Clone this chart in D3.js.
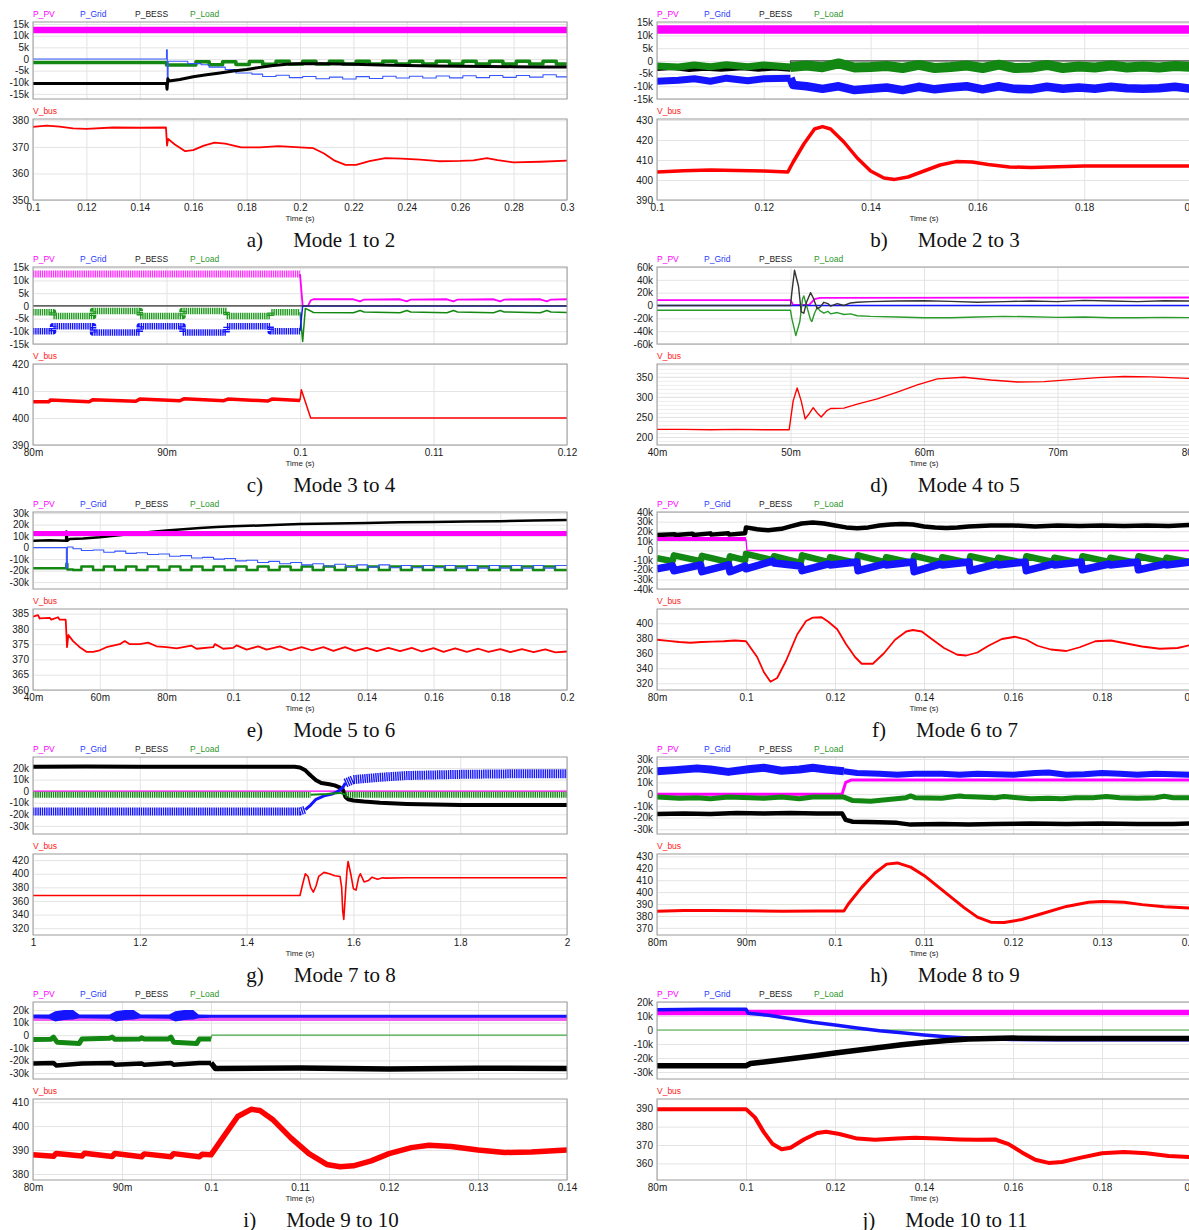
<!DOCTYPE html>
<html>
<head>
<meta charset="utf-8">
<script src="https://cdn.jsdelivr.net/npm/d3@7"></script>
<style>
body { margin: 0; background: #fff; }
</style>
</head>
<body>
<div id="chart"></div>
<script>
// ---- tick values ----
const k15Ticks = [15, 10, 5, 0, -5, -10, -15];
const aXTicks = [0.1, 0.12, 0.14, 0.16, 0.18, 0.2, 0.22, 0.24, 0.26, 0.28, 0.3];
const bXTicks = [0.1, 0.12, 0.14, 0.16, 0.18, 0.2];
const cXTicks = [0.08, 0.09, 0.1, 0.11, 0.12];
const dXTicks = [0.04, 0.05, 0.06, 0.07, 0.08];
const eXTicks = [0.04, 0.06, 0.08, 0.1, 0.12, 0.14, 0.16, 0.18, 0.2];
const fXTicks = [0.08, 0.1, 0.12, 0.14, 0.16, 0.18, 0.2];
const gXTicks = [1, 1.2, 1.4, 1.6, 1.8, 2];
const hXTicks = [0.08, 0.09, 0.1, 0.11, 0.12, 0.13, 0.14];

const legendNames = ["P_PV", "P_Grid", "P_BESS", "P_Load"];

// ---- a) Mode 1 to 2 ----  (power in kW, time in s)
const aPV = [[0.1, 12.5], [0.3, 12.5]];
const aLoad = [[0.1, -1.5], [0.15, -2.6], [0.161, -1.2], [0.166, -2.5], [0.171, -1.2], [0.176, -2.4], [0.181, -1.1], [0.186, -2.3], [0.191, -1.0], [0.196, -2.2], [0.201, -1.0], [0.206, -2.2], [0.211, -1.0], [0.216, -2.2], [0.221, -1.0], [0.226, -2.2], [0.231, -1.0], [0.236, -2.2], [0.241, -1.0], [0.246, -2.2], [0.251, -1.0], [0.256, -2.2], [0.261, -1.0], [0.266, -2.2], [0.271, -1.0], [0.276, -2.2], [0.281, -1.0], [0.286, -2.2], [0.291, -1.0], [0.296, -2.2], [0.3, -2.2]];
const aGrid = [[0.1, 0], [0.15, 4], [0.1503, -10], [0.1506, -1], [0.158, -2], [0.163, -2.5], [0.166, -3.5], [0.172, -4.5], [0.176, -6], [0.182, -6.5], [0.186, -7.5], [0.191, -7], [0.196, -8], [0.201, -7.5], [0.206, -8.5], [0.211, -7.8], [0.216, -8.6], [0.221, -7.6], [0.226, -8.4], [0.231, -7.4], [0.236, -8.2], [0.241, -7.4], [0.246, -8.2], [0.251, -7.3], [0.256, -8.1], [0.261, -7.2], [0.266, -8], [0.271, -7.1], [0.276, -7.9], [0.281, -7.1], [0.286, -7.8], [0.291, -6.8], [0.296, -7.7], [0.3, -7.7]];
const aBESS = [[0.1, -10.5], [0.15, -10.5], [0.1502, -13], [0.1505, -8.5], [0.151, -9.5], [0.155, -8.8], [0.16, -7.6], [0.165, -6.8], [0.17, -6], [0.175, -5.2], [0.18, -4.5], [0.185, -3.6], [0.19, -2.8], [0.195, -2.3], [0.2, -2], [0.21, -2], [0.22, -2.3], [0.23, -2.6], [0.24, -2.8], [0.25, -3], [0.26, -3.1], [0.27, -3.2], [0.28, -3.3], [0.29, -3.4], [0.3, -3.4]];
const aV = [[0.1, 377.5], [0.105, 378], [0.11, 377.6], [0.115, 377], [0.12, 376.8], [0.13, 377.3], [0.14, 377.2], [0.1498, 377.3], [0.1502, 370.5], [0.1506, 373], [0.153, 371], [0.157, 368.4], [0.16, 368.8], [0.164, 370.5], [0.168, 371.6], [0.172, 371.2], [0.178, 369.8], [0.185, 369.8], [0.192, 370.3], [0.2, 369.8], [0.205, 369.5], [0.209, 367.5], [0.213, 364.8], [0.217, 363.2], [0.221, 363.2], [0.226, 364.6], [0.232, 365.8], [0.238, 365.6], [0.245, 365.2], [0.252, 364.6], [0.26, 364.7], [0.265, 364.9], [0.27, 365.8], [0.274, 365], [0.28, 364.2], [0.29, 364.4], [0.3, 364.8]];

// ---- b) Mode 2 to 3 ----
const bPV = [[0.1, 12.3], [0.2, 12.3]];
const bBESS1 = [[0.1, -3.2], [0.103, -2.8], [0.106, -3.6], [0.109, -3.1], [0.112, -3.5], [0.116, -2.9], [0.119, -3.5], [0.122, -3], [0.125, -3.5]];
const bBESS2 = [[0.125, -3.5], [0.125, 0], [0.2, 0]];
const bLoad1 = [[0.1, -2], [0.104, -2.4], [0.107, -1.6], [0.11, -2.3], [0.113, -1.5], [0.117, -2.3], [0.12, -1.6], [0.125, -2.4]];
const bLoad2 = [[0.125, -2.4], [0.128, -1.8], [0.131, -2.5], [0.134, -1], [0.137, -2.6], [0.14, -2.4], [0.143, -2], [0.146, -2.8], [0.149, -1.6], [0.152, -2.8], [0.155, -2.4], [0.158, -1.8], [0.161, -2.8], [0.164, -1.5], [0.167, -2.8], [0.17, -2.6], [0.173, -1.6], [0.176, -2.8], [0.179, -2.2], [0.182, -2.6], [0.185, -1.8], [0.188, -2.6], [0.191, -2.2], [0.194, -2.6], [0.197, -2], [0.2, -2.4]];
const bGrid1 = [[0.1, -8], [0.104, -7.6], [0.107, -7], [0.11, -8], [0.113, -6.8], [0.117, -7.8], [0.12, -7], [0.125, -6.8]];
const bGrid2 = [[0.125, -6.8], [0.1255, -9.5], [0.128, -10], [0.131, -11], [0.134, -10], [0.137, -11.5], [0.14, -11], [0.143, -10.5], [0.146, -11.5], [0.149, -10.2], [0.152, -11.2], [0.155, -10.5], [0.158, -10], [0.161, -11.2], [0.164, -10], [0.167, -11], [0.17, -11.2], [0.173, -10.2], [0.176, -11], [0.179, -10.5], [0.182, -11], [0.185, -10.2], [0.188, -10.8], [0.191, -11], [0.194, -10.8], [0.197, -10.2], [0.2, -11]];
const bV = [[0.1, 404], [0.105, 404.6], [0.11, 405], [0.115, 404.8], [0.12, 404.5], [0.1245, 404], [0.1255, 409], [0.1275, 418], [0.1295, 425.5], [0.131, 426.7], [0.1325, 425.5], [0.135, 419], [0.1375, 411], [0.14, 404.5], [0.1425, 401], [0.1445, 400.3], [0.147, 401.5], [0.15, 404.5], [0.153, 407.5], [0.156, 409.2], [0.159, 409], [0.162, 407.8], [0.166, 406.5], [0.17, 406.3], [0.175, 406.6], [0.18, 407], [0.19, 407], [0.2, 407]];

// ---- c) Mode 3 to 4 ----
const cPV1 = [[0.08, 12.5], [0.1, 12.5]];
const cPV2 = [[0.1, 12.5], [0.1002, 0], [0.1006, 0], [0.1008, 2.2], [0.101, 2.6], [0.104, 2.6], [0.1045, 1.8], [0.1048, 2.5], [0.1075, 2.6], [0.108, 1.8], [0.1083, 2.5], [0.111, 2.6], [0.1115, 1.8], [0.1118, 2.5], [0.1145, 2.6], [0.115, 1.8], [0.1153, 2.5], [0.118, 2.6], [0.1185, 1.8], [0.1188, 2.5], [0.12, 2.6]];
const cLoad1 = [[0.08, -2.5], [0.0815, -4], [0.0845, -2], [0.088, -4], [0.0912, -2], [0.0945, -4], [0.0978, -2.5], [0.1, -2.5]];
const cLoad2 = [[0.1, -2.5], [0.1002, -14], [0.1004, -1], [0.1008, -2], [0.101, -2.6], [0.104, -2.7], [0.1045, -1.8], [0.1048, -2.4], [0.1075, -2.7], [0.108, -1.8], [0.1083, -2.4], [0.111, -2.7], [0.1115, -1.8], [0.1118, -2.4], [0.1145, -2.7], [0.115, -1.8], [0.1153, -2.4], [0.118, -2.7], [0.1185, -1.8], [0.1188, -2.4], [0.12, -2.6]];
const cGrid1 = [[0.08, -10], [0.0815, -8], [0.0845, -10.5], [0.088, -8], [0.0912, -10.5], [0.0945, -8], [0.0978, -10], [0.1, -10]];
const cGrid2 = [[0.1, -10], [0.1002, 0], [0.12, 0]];
const cBESS = [[0.08, 0], [0.12, 0]];
const cV1 = [[0.08, 406], [0.0812, 406], [0.0813, 406.7], [0.0842, 406], [0.0845, 406.8], [0.0877, 406.2], [0.088, 407], [0.091, 406.4], [0.0913, 407.1], [0.0943, 406.4], [0.0946, 407], [0.0976, 406.3], [0.0979, 407], [0.1, 406.5]];
const cV2 = [[0.1, 406.5], [0.1001, 410.5], [0.1008, 400], [0.12, 400]];

// ---- d) Mode 4 to 5 ----
const dPV = [[0.04, 8.5], [0.05, 8.5], [0.0502, 1], [0.0514, 1], [0.0518, 10], [0.0522, 12], [0.08, 12.5]];
const dGrid = [[0.04, 0], [0.08, 0]];
const dBESS = [[0.04, 0], [0.05, 0], [0.0501, 20], [0.0503, 55], [0.0506, 30], [0.0508, -10], [0.051, -12], [0.0512, 5], [0.0515, 20], [0.0517, 12], [0.052, -5], [0.0522, -3], [0.0525, 5], [0.0528, 3], [0.053, -1], [0.0535, 3], [0.054, 0], [0.0545, 4], [0.055, 5], [0.056, 6], [0.058, 7], [0.06, 7.5], [0.062, 6.5], [0.064, 5], [0.066, 6], [0.068, 7], [0.07, 6], [0.072, 8], [0.074, 7], [0.076, 6], [0.078, 7.5], [0.08, 7]];
const dLoad = [[0.04, -7.5], [0.05, -7.5], [0.0501, -20], [0.0504, -47], [0.0507, -25], [0.0509, 10], [0.051, 15], [0.0512, 0], [0.0515, -22], [0.0516, -25], [0.0518, -12], [0.052, -3], [0.0522, -8], [0.0525, -12], [0.0528, -9], [0.053, -13], [0.0535, -11], [0.054, -14], [0.0545, -13], [0.055, -16], [0.056, -17], [0.058, -18], [0.06, -19], [0.062, -19], [0.064, -18], [0.066, -17], [0.068, -17.5], [0.07, -18.5], [0.072, -18], [0.074, -19], [0.076, -19], [0.078, -18.5], [0.08, -19]];
const dV = [[0.04, 219], [0.042, 219], [0.044, 218], [0.046, 219], [0.048, 218], [0.0499, 218], [0.0502, 290], [0.0505, 322], [0.0508, 290], [0.0511, 245], [0.0514, 258], [0.0517, 273], [0.052, 260], [0.0523, 250], [0.0527, 265], [0.053, 271], [0.054, 272], [0.055, 282], [0.0565, 295], [0.058, 312], [0.0595, 330], [0.061, 345], [0.063, 349], [0.065, 342], [0.067, 337], [0.069, 338], [0.071, 343], [0.073, 348], [0.075, 351], [0.077, 350], [0.08, 346]];

// ---- e) Mode 5 to 6 ----
const ePV = [[0.04, 12.2], [0.2, 12.2]];
const eBESS = [[0.04, 6], [0.045, 6.5], [0.0499, 6], [0.05, 14], [0.0503, 6], [0.051, 7.5], [0.055, 8], [0.06, 9], [0.065, 10.5], [0.07, 12], [0.075, 13.5], [0.08, 15], [0.085, 16], [0.09, 17], [0.095, 18], [0.1, 18.5], [0.11, 19.5], [0.12, 20.5], [0.13, 21], [0.14, 21.5], [0.15, 22], [0.16, 22.3], [0.17, 22.8], [0.18, 23], [0.19, 23.5], [0.2, 24]];
const eGrid = [[0.04, 0], [0.0498, 0], [0.05, -18], [0.0503, 0.5], [0.052, -1], [0.0545, -2.5], [0.058, -2], [0.0612, -4], [0.0645, -3], [0.0678, -5], [0.071, -4.5], [0.0743, -6], [0.0776, -5.5], [0.0809, -7.5], [0.0842, -7], [0.0875, -9], [0.0908, -8.5], [0.0941, -10], [0.0974, -9.5], [0.1007, -11.5], [0.104, -11], [0.1073, -13], [0.1106, -12], [0.1139, -14], [0.1172, -13], [0.1205, -15], [0.1238, -14], [0.1271, -16], [0.1304, -14.5], [0.1337, -16.5], [0.137, -15], [0.1403, -17], [0.1436, -15], [0.1469, -17.5], [0.1502, -15.5], [0.1535, -17.5], [0.1568, -15.5], [0.1601, -17.5], [0.1634, -15.5], [0.1667, -17.8], [0.17, -15.5], [0.1733, -17.8], [0.1766, -15.5], [0.1799, -17.8], [0.1832, -15.5], [0.1865, -17.8], [0.1898, -15.5], [0.1931, -17.8], [0.1964, -15.5], [0.2, -15.5]];
const eLoad = [[0.04, -18], [0.0498, -18], [0.05, -14], [0.0503, -19], [0.052, -19.5], [0.0545, -16.5], [0.058, -19.5], [0.0612, -16.5], [0.0645, -19.5], [0.0678, -16.5], [0.071, -19.5], [0.0743, -16.5], [0.0776, -19.5], [0.0809, -16.5], [0.0842, -19.5], [0.0875, -16.5], [0.0908, -19.5], [0.0941, -16.5], [0.0974, -19.5], [0.1007, -16.5], [0.104, -19.5], [0.1073, -16.5], [0.1106, -19.5], [0.1139, -16.5], [0.1172, -19.5], [0.1205, -16.5], [0.1238, -19.5], [0.1271, -16.5], [0.1304, -19.5], [0.1337, -16.5], [0.137, -19.5], [0.1403, -16.5], [0.1436, -19.5], [0.1469, -16.5], [0.1502, -19.5], [0.1535, -16.5], [0.1568, -19.5], [0.1601, -16.5], [0.1634, -19.5], [0.1667, -16.5], [0.17, -19.5], [0.1733, -16.5], [0.1766, -19.5], [0.1799, -16.5], [0.1832, -19.5], [0.1865, -16.5], [0.1898, -19.5], [0.1931, -16.5], [0.1964, -19.5], [0.2, -19.5]];
const eV = [[0.04, 384], [0.0415, 384.5], [0.042, 383.4], [0.045, 383.6], [0.0455, 383], [0.0475, 383.8], [0.048, 383], [0.0498, 383], [0.0502, 374], [0.0506, 378], [0.052, 376], [0.054, 374], [0.056, 372.5], [0.058, 372.5], [0.06, 373], [0.062, 374], [0.064, 374.5], [0.066, 375], [0.0675, 376], [0.069, 375], [0.072, 375], [0.0745, 375.5], [0.077, 374.3], [0.08, 374], [0.083, 373.6], [0.0875, 374.5], [0.089, 373.5], [0.094, 374], [0.0945, 375], [0.097, 373.5], [0.1, 373.8], [0.101, 374.6], [0.104, 373.2], [0.1075, 374.3], [0.11, 373.2], [0.114, 374.3], [0.117, 373], [0.1205, 374], [0.1235, 373], [0.127, 374], [0.13, 372.8], [0.1335, 374], [0.1365, 372.8], [0.14, 373.8], [0.143, 372.7], [0.1465, 373.8], [0.15, 372.7], [0.1535, 373.8], [0.1565, 372.6], [0.16, 373.7], [0.163, 372.5], [0.1665, 373.6], [0.17, 372.5], [0.1735, 373.5], [0.1765, 372.5], [0.18, 373.4], [0.183, 372.4], [0.1865, 373.4], [0.19, 372.4], [0.1935, 373.3], [0.1965, 372.3], [0.2, 372.6]];

// ---- f) Mode 6 to 7 ----
const fPV1 = [[0.08, 12], [0.1, 12]];
const fPV2 = [[0.1, 12], [0.1002, 0], [0.2, 0]];
const fBESS = [[0.08, 16], [0.084, 17], [0.0842, 16], [0.088, 17.5], [0.0882, 16.2], [0.092, 17.8], [0.0922, 16.5], [0.096, 18], [0.0962, 16.5], [0.0998, 18], [0.1, 24], [0.1025, 22], [0.105, 21], [0.108, 22.5], [0.11, 25], [0.1125, 28], [0.115, 29], [0.1175, 28], [0.12, 26], [0.1225, 24], [0.125, 23], [0.1275, 24], [0.13, 26], [0.1325, 27], [0.135, 27.5], [0.1375, 27], [0.14, 25], [0.1425, 24], [0.145, 23.5], [0.1475, 24], [0.15, 25], [0.155, 26], [0.16, 26], [0.165, 25], [0.17, 26], [0.175, 25.5], [0.18, 26], [0.185, 25.5], [0.19, 26], [0.195, 25.5], [0.2, 26.5]];
const fLoad = [[0.08, -8], [0.0835, -11], [0.0838, -5], [0.0898, -11], [0.0901, -5.5], [0.0961, -12], [0.0964, -6], [0.0998, -10], [0.1, -3.5], [0.106, -10], [0.1063, -6], [0.1123, -13], [0.1126, -5], [0.1186, -12], [0.1189, -7], [0.1249, -13], [0.1252, -5], [0.1312, -12], [0.1315, -7], [0.1375, -13], [0.1378, -5.5], [0.1438, -12], [0.1441, -7], [0.1501, -13], [0.1504, -6], [0.1564, -12], [0.1567, -7.5], [0.1627, -13], [0.163, -6], [0.169, -12], [0.1693, -7.5], [0.1753, -13], [0.1756, -6], [0.1816, -12], [0.1819, -7.5], [0.1879, -13], [0.1882, -6], [0.1942, -12], [0.1945, -7.5], [0.2, -12]];
const fGrid = [[0.08, -19], [0.0835, -16], [0.0838, -21], [0.0898, -15], [0.0901, -22], [0.0961, -15], [0.0964, -22], [0.0998, -16], [0.1, -19], [0.106, -11], [0.1063, -13], [0.1123, -16], [0.1126, -21], [0.1186, -14], [0.1189, -15], [0.1249, -12], [0.1252, -21], [0.1312, -14], [0.1315, -15], [0.1375, -12], [0.1378, -22], [0.1438, -14], [0.1441, -15], [0.1501, -12], [0.1504, -21], [0.1564, -14], [0.1567, -15], [0.1627, -12], [0.163, -21], [0.169, -14], [0.1693, -15], [0.1753, -12], [0.1756, -20], [0.1816, -14], [0.1819, -15], [0.1879, -12], [0.1882, -20], [0.1942, -14], [0.1945, -15], [0.2, -12]];
const fV = [[0.08, 378], [0.0825, 376.5], [0.085, 375], [0.0875, 374], [0.09, 375], [0.0925, 375.5], [0.095, 376], [0.0975, 377], [0.1, 376], [0.1025, 355], [0.104, 335], [0.1055, 322], [0.107, 327], [0.109, 350], [0.1115, 385], [0.1135, 403], [0.115, 407.5], [0.117, 408], [0.1185, 402], [0.1205, 392], [0.1225, 372], [0.1245, 355], [0.126, 346], [0.1285, 346], [0.131, 360], [0.1335, 378], [0.136, 389], [0.1375, 391], [0.1395, 389], [0.1415, 380], [0.1445, 367], [0.1475, 358], [0.1495, 357], [0.152, 361], [0.1545, 370], [0.1575, 379], [0.1605, 382], [0.163, 378], [0.1655, 370], [0.1685, 365], [0.172, 363], [0.175, 368], [0.1785, 376], [0.182, 377], [0.1855, 373], [0.189, 369], [0.193, 366], [0.197, 367], [0.2, 371]];

// ---- g) Mode 7 to 8 ----
const gPV = [[1, 0], [2, 0]];
const gBESS = [[1, 21], [1.1, 21.3], [1.2, 21], [1.3, 21], [1.4, 21.1], [1.49, 21], [1.5, 20.5], [1.51, 18], [1.52, 13.5], [1.53, 9.5], [1.54, 7], [1.555, 6], [1.565, 5], [1.575, 3], [1.58, 1.5], [1.585, -5], [1.59, -7], [1.6, -8], [1.62, -9], [1.65, -10], [1.7, -11], [1.75, -11.5], [1.8, -12], [1.9, -12], [2, -12]];
const gGrid1 = [[1, -17.5], [1.5, -17.5], [1.51, -16]];
const gGrid2 = [[1.51, -16], [1.52, -12], [1.53, -7], [1.545, -4], [1.56, -2.5], [1.57, -0.5], [1.58, 3], [1.585, 7]];
const gGrid3 = [[1.585, 7], [1.6, 10], [1.65, 12], [1.7, 13.5], [1.8, 14.5], [1.9, 15], [2, 15]];
const gLoad1 = [[1, -3], [1.52, -3]];
const gLoad2 = [[1.52, -3], [1.55, -2.5], [1.575, -1.5], [1.585, -3]];
const gLoad3 = [[1.585, -3], [2, -3]];
const gV = [[1, 368], [1.5, 368], [1.505, 385], [1.51, 400], [1.515, 396], [1.52, 380], [1.525, 373], [1.53, 382], [1.535, 396], [1.545, 402], [1.555, 400], [1.565, 397], [1.575, 396], [1.578, 380], [1.58, 345], [1.582, 333], [1.585, 370], [1.588, 405], [1.59, 418], [1.595, 400], [1.6, 378], [1.605, 376], [1.61, 395], [1.613, 400], [1.62, 388], [1.628, 390], [1.635, 395], [1.645, 392], [1.655, 394], [1.66, 393.5], [1.7, 394], [2, 394]];

// ---- h) Mode 8 to 9 ----
const hGrid1 = [[0.08, 19.5], [0.082, 20.5], [0.0845, 22], [0.086, 21], [0.088, 19], [0.0905, 21.5], [0.092, 22.5], [0.094, 20], [0.096, 21], [0.0975, 22.5], [0.099, 21], [0.101, 19.5]];
const hGrid2 = [[0.101, 19.5], [0.1025, 18], [0.105, 17.5], [0.107, 16.5], [0.109, 17.5], [0.112, 17.5], [0.114, 16.5], [0.116, 17.5], [0.118, 17], [0.12, 16.5], [0.1225, 18], [0.124, 18.5], [0.126, 16.5], [0.128, 17], [0.13, 18], [0.132, 17.5], [0.134, 16.5], [0.136, 17.5], [0.138, 17], [0.14, 16.5]];
const hPV = [[0.08, 0], [0.1008, 0], [0.1012, 10], [0.1018, 12], [0.14, 12]];
const hLoad = [[0.08, -2.5], [0.0825, -3.5], [0.0845, -3], [0.086, -4], [0.088, -2.5], [0.0905, -3], [0.092, -3.5], [0.094, -2.5], [0.096, -4], [0.0975, -2.5], [0.101, -2.5], [0.102, -5.5], [0.104, -6], [0.106, -4.5], [0.108, -3], [0.1085, -1.5], [0.109, -3], [0.112, -3.5], [0.1135, -2], [0.114, -1.5], [0.1145, -2], [0.116, -2.5], [0.118, -3], [0.119, -2], [0.1205, -3], [0.122, -4], [0.124, -3.5], [0.1255, -4], [0.127, -3], [0.129, -3], [0.1305, -2], [0.132, -3], [0.134, -3.5], [0.136, -3], [0.137, -1.8], [0.138, -3], [0.14, -3]];
const hBESS = [[0.08, -17], [0.083, -16.5], [0.086, -17], [0.089, -16], [0.092, -16.5], [0.095, -16], [0.098, -16.5], [0.1008, -16.5], [0.1012, -22], [0.102, -23.5], [0.105, -24], [0.107, -24.5], [0.1085, -26], [0.112, -25.5], [0.115, -26], [0.118, -25.5], [0.122, -25], [0.126, -25.5], [0.13, -25], [0.134, -25.5], [0.138, -25.5], [0.14, -25]];
const hV = [[0.08, 384], [0.083, 384.5], [0.086, 384.6], [0.09, 384.3], [0.094, 384], [0.098, 384.2], [0.101, 384.2], [0.1015, 390], [0.103, 404], [0.1045, 416], [0.1058, 423.5], [0.107, 424.5], [0.1085, 421], [0.11, 414], [0.1115, 405], [0.113, 396], [0.1145, 387], [0.116, 379], [0.1175, 374.8], [0.119, 374.5], [0.121, 377], [0.1235, 382.5], [0.126, 388], [0.1285, 391.5], [0.13, 392.2], [0.1325, 391.5], [0.1345, 389.5], [0.137, 387.7], [0.14, 386.5]];

// ---- i) Mode 9 to 10 ----  (iGrid rows: time, lower edge, upper edge)
const iPV = [[0.08, 13], [0.14, 13]];
const iGrid = [[0.08, 13.5, 16.5], [0.0818, 13, 16.5], [0.0825, 11, 19], [0.0835, 12, 20], [0.0845, 12.5, 20], [0.0852, 13.5, 16.5], [0.0886, 13, 16.5], [0.0893, 11, 19], [0.0903, 12, 20], [0.0913, 12.5, 20], [0.0921, 13.5, 16.5], [0.0953, 13, 16.5], [0.096, 11, 19], [0.097, 12, 20], [0.098, 12.5, 20], [0.0986, 13.5, 16.5], [0.1, 13.8, 16.2], [0.14, 13.8, 16.2]];
const iLoad1 = [[0.08, -3.5], [0.082, -3.2], [0.0823, -1.5], [0.0827, -5.5], [0.0852, -6.5], [0.0855, -3], [0.0886, -2.5], [0.0889, -1.5], [0.0892, -3.2], [0.092, -3], [0.0922, -2], [0.0925, -3], [0.0952, -3], [0.0955, -1.5], [0.0958, -5.5], [0.0984, -6.5], [0.0987, -3], [0.1, -3]];
const iLoad2 = [[0.1, -3], [0.1001, 0], [0.14, 0]];
const iBESS1 = [[0.08, -22.5], [0.0823, -22], [0.0826, -24], [0.0855, -22.5], [0.0889, -22], [0.0892, -23.5], [0.0922, -22.5], [0.0925, -23.5], [0.0955, -22], [0.0958, -23.5], [0.0987, -22], [0.1, -22]];
const iBESS2 = [[0.1, -22], [0.1005, -26.5], [0.11, -26], [0.12, -26.8], [0.13, -26.2], [0.14, -26.5]];
const iV = [[0.08, 388], [0.0823, 387.4], [0.0826, 388.6], [0.0855, 387.5], [0.0858, 388.7], [0.0889, 387.3], [0.0892, 388.6], [0.0922, 387.2], [0.0925, 388.4], [0.0955, 387.2], [0.0958, 388.5], [0.0987, 387.2], [0.099, 388.2], [0.1, 388], [0.1015, 396], [0.103, 404], [0.1045, 407], [0.1055, 406.5], [0.107, 402.5], [0.109, 395], [0.111, 388.5], [0.113, 384], [0.1145, 383], [0.116, 383.4], [0.118, 385.5], [0.12, 388.5], [0.1225, 391], [0.1245, 392], [0.127, 391.5], [0.13, 390], [0.133, 389], [0.136, 389.2], [0.14, 390]];

// ---- j) Mode 10 to 11 ----
const jPV = [[0.08, 12.5], [0.2, 12.5]];
const jLoad = [[0.08, 0], [0.2, 0]];
const jGrid = [[0.08, 14.5], [0.09, 14.8], [0.1, 14.8], [0.1005, 12], [0.105, 10.5], [0.11, 8], [0.115, 5.5], [0.12, 3.5], [0.125, 1.5], [0.13, -0.5], [0.135, -2], [0.14, -3.5], [0.145, -4.8], [0.15, -5.8], [0.155, -6.3], [0.16, -6.8], [0.17, -7], [0.18, -7], [0.19, -7], [0.2, -7]];
const jBESS = [[0.08, -25.5], [0.09, -25.5], [0.1, -25.5], [0.101, -24], [0.105, -22.5], [0.11, -20.5], [0.115, -18.5], [0.12, -16.5], [0.125, -14.5], [0.13, -12.5], [0.135, -10.5], [0.14, -9], [0.145, -7.5], [0.15, -6.5], [0.155, -6], [0.16, -5.8], [0.17, -6], [0.18, -6], [0.19, -6], [0.2, -6]];
const jV = [[0.08, 389.5], [0.09, 389.5], [0.1, 389.5], [0.102, 385], [0.104, 377], [0.106, 370.5], [0.108, 367.7], [0.11, 368.5], [0.113, 373], [0.116, 376.5], [0.118, 377.2], [0.121, 376], [0.125, 373.5], [0.129, 372.8], [0.134, 373.5], [0.138, 374], [0.143, 373.5], [0.148, 373], [0.152, 372.8], [0.156, 373], [0.159, 370.5], [0.162, 366], [0.165, 362], [0.168, 360.3], [0.171, 360.8], [0.175, 363], [0.18, 365.5], [0.185, 366.2], [0.19, 365.5], [0.195, 364], [0.2, 363.5]];

// ---- colours and layout ----
const colors = { PV: "#ff00ff", Grid: "#1414ff", BESS: "#000000", Load: "#128812", V: "#ff0000" };
const legendColors = ["#ff00ff", "#1f3cff", "#222222", "#2a962a"];
const colLeft = [33, 657];
const plotW = 534;
const rowH = 245;
const hatch = "1.4,0.8";

const panels = [
  { id: "a", col: 0, row: 0, mode: "Mode 1 to 2", xd: [0.1, 0.3], xt: aXTicks, pd: [-17.2, 15.9], pt: k15Ticks, vd: [350, 380.5], vt: [350, 360, 370, 380],
    series: [{ k: "PV", d: aPV, w: 6.5 }, { k: "Load", d: aLoad, w: 3.5, step: true }, { k: "Grid", d: aGrid, w: 1.1, step: true, c: "#3656ff" }, { k: "BESS", d: aBESS, w: 3 }],
    vbus: [{ d: aV, w: 1.8 }] },
  { id: "b", col: 1, row: 0, mode: "Mode 2 to 3", xd: [0.1, 0.2], xt: bXTicks, pd: [-15, 15.3], pt: k15Ticks, vd: [390, 430.5], vt: [390, 400, 410, 420, 430],
    series: [{ k: "PV", d: bPV, w: 8.5 }, { k: "BESS", d: bBESS1, w: 4 }, { k: "BESS", d: bBESS2, w: 1.2, c: "#444" }, { k: "Load", d: bLoad1, w: 7 }, { k: "Load", d: bLoad2, w: 10 },
             { k: "Grid", d: bGrid1, w: 7 }, { k: "Grid", d: bGrid2, w: 8.5 }],
    vbus: [{ d: bV, w: 3.5 }] },
  { id: "c", col: 0, row: 1, mode: "Mode 3 to 4", xd: [0.08, 0.12], xt: cXTicks, pd: [-15, 15.3], pt: k15Ticks, vd: [390, 420], vt: [390, 400, 410, 420],
    series: [{ k: "PV", d: cPV1, w: 7, c: "#ff33ff", dash: hatch }, { k: "PV", d: cPV2, w: 1.8 }, { k: "Load", d: cLoad1, w: 6.5, step: true, c: "#1f9a1f", dash: hatch }, { k: "Load", d: cLoad2, w: 1.5 },
             { k: "Grid", d: cGrid1, w: 6.5, step: true, dash: hatch }, { k: "Grid", d: cGrid2, w: 1.5 }, { k: "BESS", d: cBESS, w: 1.3, c: "#333" }],
    vbus: [{ d: cV1, w: 3.5 }, { d: cV2, w: 1.5 }] },
  { id: "d", col: 1, row: 1, mode: "Mode 4 to 5", xd: [0.04, 0.08], xt: dXTicks, pd: [-60, 60], pt: [60, 40, 20, 0, -20, -40, -60], vd: [180, 382], vt: [200, 250, 300, 350], vminor: true,
    series: [{ k: "PV", d: dPV, w: 1.8 }, { k: "Grid", d: dGrid, w: 1.5 }, { k: "Load", d: dLoad, w: 1.4, c: "#2a9a2a" }, { k: "BESS", d: dBESS, w: 1.4, c: "#333" }],
    vbus: [{ d: dV, w: 1.4 }] },
  { id: "e", col: 0, row: 2, mode: "Mode 5 to 6", xd: [0.04, 0.2], xt: eXTicks, pd: [-36, 31], pt: [30, 20, 10, 0, -10, -20, -30], vd: [360, 386.5], vt: [360, 365, 370, 375, 380, 385],
    series: [{ k: "BESS", d: eBESS, w: 2.5 }, { k: "PV", d: ePV, w: 5 }, { k: "Load", d: eLoad, w: 2.5, step: true }, { k: "Grid", d: eGrid, w: 1.1, step: true, c: "#3656ff" }],
    vbus: [{ d: eV, w: 1.8 }] },
  { id: "f", col: 1, row: 2, mode: "Mode 6 to 7", xd: [0.08, 0.2], xt: fXTicks, pd: [-40, 40], pt: [40, 30, 20, 10, 0, -10, -20, -30, -40], vd: [311, 419], vt: [320, 340, 360, 380, 400],
    series: [{ k: "BESS", d: fBESS, w: 4.5 }, { k: "PV", d: fPV1, w: 4 }, { k: "PV", d: fPV2, w: 1.3 }, { k: "Load", d: fLoad, w: 6.5 }, { k: "Grid", d: fGrid, w: 7.5 }],
    vbus: [{ d: fV, w: 1.8 }] },
  { id: "g", col: 0, row: 3, mode: "Mode 7 to 8", xd: [1, 2], xt: gXTicks, pd: [-37, 29.5], pt: [20, 10, 0, -10, -20, -30], vd: [310, 429], vt: [320, 340, 360, 380, 400, 420],
    series: [{ k: "PV", d: gPV, w: 1.2 }, { k: "BESS", d: gBESS, w: 4 }, { k: "Grid", d: gGrid1, w: 8, dash: hatch }, { k: "Grid", d: gGrid2, w: 3 }, { k: "Grid", d: gGrid3, w: 9, dash: hatch },
             { k: "Load", d: gLoad1, w: 6, dash: hatch }, { k: "Load", d: gLoad2, w: 2 }, { k: "Load", d: gLoad3, w: 6, dash: hatch }],
    vbus: [{ d: gV, w: 1.6 }] },
  { id: "h", col: 1, row: 3, mode: "Mode 8 to 9", xd: [0.08, 0.14], xt: hXTicks, pd: [-34, 31.7], pt: [30, 20, 10, 0, -10, -20, -30], vd: [364, 432], vt: [370, 380, 390, 400, 410, 420, 430],
    series: [{ k: "Grid", d: hGrid1, w: 8 }, { k: "Grid", d: hGrid2, w: 6 }, { k: "PV", d: hPV, w: 3 }, { k: "Load", d: hLoad, w: 5 }, { k: "BESS", d: hBESS, w: 4.5 }],
    vbus: [{ d: hV, w: 3 }] },
  { id: "i", col: 0, row: 4, mode: "Mode 9 to 10", xd: [0.08, 0.14], xt: hXTicks, pd: [-34.8, 26.4], pt: [20, 10, 0, -10, -20, -30], vd: [377.5, 411.3], vt: [380, 390, 400, 410],
    series: [{ k: "PV", d: iPV, w: 4.5, c: "#f060f0" }, { k: "Grid", d: iGrid, band: true }, { k: "Load", d: iLoad1, w: 5 }, { k: "Load", d: iLoad2, w: 1.2, c: "#44aa44" },
             { k: "BESS", d: iBESS1, w: 4.5 }, { k: "BESS", d: iBESS2, w: 5.5 }],
    vbus: [{ d: iV, w: 5.5 }] },
  { id: "j", col: 1, row: 4, mode: "Mode 10 to 11", xd: [0.08, 0.2], xt: fXTicks, pd: [-35, 20], pt: [20, 10, 0, -10, -20, -30], vd: [351, 395], vt: [360, 370, 380, 390],
    series: [{ k: "Load", d: jLoad, w: 1.2, c: "#44aa44" }, { k: "PV", d: jPV, w: 5.5 }, { k: "Grid", d: jGrid, w: 3.5 }, { k: "BESS", d: jBESS, w: 5.5 }],
    vbus: [{ d: jV, w: 4 }] }
];

const fmtX = v => v < 0.0999 ? Math.round(v * 1000) + "m" : String(+v.toFixed(3));
const fmtK = v => v === 0 ? "0" : v + "k";
const sans = "'Liberation Sans', Arial, sans-serif";

const svg = d3.select("#chart").append("svg")
  .attr("width", 1189).attr("height", 1230)
  .style("display", "block").style("background", "#fff");
const defs = svg.append("defs");

function subplot(g, x, y, xt, yt, fmt, top, bot, cid, series, minor) {
  const left = x.range()[0], right = x.range()[1];

  if (minor) {
    g.append("g").attr("transform", `translate(${left},0)`)
      .call(d3.axisLeft(y).tickValues(d3.range(190, 390, 10)).tickSize(-(right - left)).tickFormat(""))
      .call(a => a.select(".domain").remove())
      .selectAll("line").attr("stroke", "#ededed");
  }
  // gridlines
  g.append("g").attr("transform", `translate(${left},0)`)
    .call(d3.axisLeft(y).tickValues(yt).tickSize(-(right - left)).tickFormat(""))
    .call(a => a.select(".domain").remove())
    .selectAll("line").attr("stroke", "#e4e4e4");
  g.append("g").attr("transform", `translate(0,${bot})`)
    .call(d3.axisBottom(x).tickValues(xt).tickSize(-(bot - top)).tickFormat(""))
    .call(a => a.select(".domain").remove())
    .selectAll("line").attr("stroke", "#e4e4e4");

  defs.append("clipPath").attr("id", cid)
    .append("rect").attr("x", left).attr("y", top).attr("width", right - left).attr("height", bot - top);

  const cg = g.append("g").attr("clip-path", `url(#${cid})`);
  series.forEach(s => {
    const col = s.c || colors[s.k];
    if (s.band) {
      const area = d3.area().x(d => x(d[0])).y0(d => y(d[1])).y1(d => y(d[2]));
      cg.append("path").attr("d", area(s.d)).attr("fill", col);
    } else {
      const line = d3.line().x(d => x(d[0])).y(d => y(d[1]))
        .curve(s.step ? d3.curveStepAfter : d3.curveLinear);
      cg.append("path").attr("d", line(s.d))
        .attr("fill", "none").attr("stroke", col)
        .attr("stroke-width", s.w)
        .attr("stroke-linejoin", "round")
        .attr("stroke-dasharray", s.dash || null);
    }
  });

  g.append("rect").attr("x", left).attr("y", top)
    .attr("width", right - left).attr("height", bot - top)
    .attr("fill", "none").attr("stroke", "#9a9a9a");

  g.append("g").attr("transform", `translate(${left},0)`)
    .call(d3.axisLeft(y).tickValues(yt).tickSize(0).tickPadding(4).tickFormat(fmt))
    .call(a => a.select(".domain").remove())
    .attr("font-family", sans).attr("font-size", 10)
    .selectAll("text").attr("fill", "#1a1a1a");
}

panels.forEach(p => {
  const left = colLeft[p.col], r = p.row * rowH;
  const x = d3.scaleLinear().domain(p.xd).range([left, left + plotW]);
  const yP = d3.scaleLinear().domain(p.pd).range([r + 99, r + 22]);
  const yV = d3.scaleLinear().domain(p.vd).range([r + 200, r + 119]);
  const g = svg.append("g").attr("class", "panel-" + p.id);

  // legend
  const offs = [0, 47, 102, 157];
  legendNames.forEach((n, i) => {
    g.append("text").attr("x", left + offs[i]).attr("y", r + 17)
      .attr("font-family", sans).attr("font-size", 8.5)
      .attr("fill", legendColors[i]).text(n);
  });
  g.append("text").attr("x", left).attr("y", r + 114)
    .attr("font-family", sans).attr("font-size", 8.5)
    .attr("fill", "#ff2020").text("V_bus");

  subplot(g, x, yP, p.xt, p.pt, fmtK, r + 22, r + 99, "clipP" + p.id, p.series, false);
  subplot(g, x, yV, p.xt, p.vt, d => d, r + 119, r + 200, "clipV" + p.id,
    p.vbus.map(s => Object.assign({ k: "V" }, s)), p.vminor);

  // time axis labels
  g.append("g").attr("transform", `translate(0,${r + 200})`)
    .call(d3.axisBottom(x).tickValues(p.xt).tickSize(0).tickPadding(4).tickFormat(fmtX))
    .call(a => a.select(".domain").remove())
    .attr("font-family", sans).attr("font-size", 10)
    .selectAll("text").attr("fill", "#1a1a1a");

  g.append("text").attr("x", left + plotW / 2).attr("y", r + 221)
    .attr("text-anchor", "middle").attr("font-family", sans).attr("font-size", 8)
    .attr("fill", "#222").text("Time (s)");

  // caption
  const cap = g.append("text").attr("x", left + 288).attr("y", r + 247)
    .attr("text-anchor", "middle")
    .attr("font-family", "'Liberation Serif', 'Times New Roman', serif")
    .attr("font-size", 21).attr("fill", "#111");
  cap.append("tspan").text(p.id + ")");
  cap.append("tspan").attr("dx", 30).text(p.mode);
});
</script>
</body>
</html>
